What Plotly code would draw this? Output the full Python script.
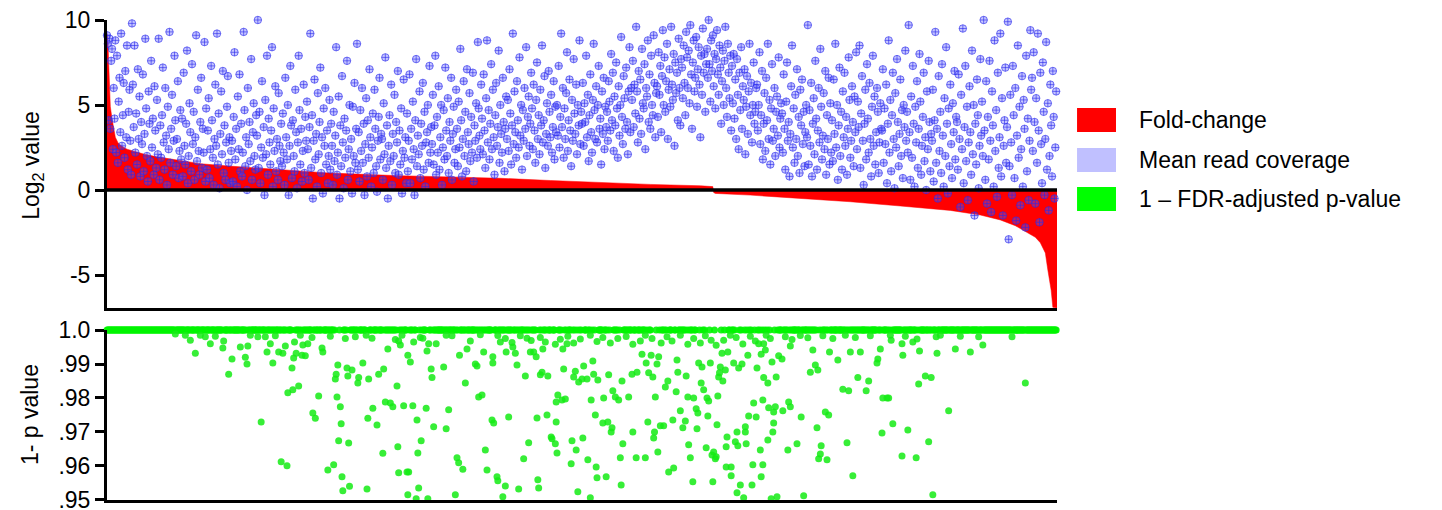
import plotly.graph_objects as go

# ---------------- data ----------------
N_GENES = 1140  # genes ranked by fold-change

# sorted log2 fold-change, read at selected ranks
fold_rank = [0, 1, 2, 3, 4, 6, 8, 10, 13, 17, 24, 32, 45, 60, 80, 100, 112, 135, 160, 200,
             232, 260, 292, 328, 352, 412, 472, 532, 592, 652, 712, 727,
             728, 730, 772, 832, 892, 952, 1012, 1048, 1072, 1090, 1102, 1114, 1120, 1126,
             1129, 1133, 1135, 1140]
fold_value = [9.2, 9.0, 7.5, 5.8, 4.9, 4.2, 3.6, 3.1, 2.8, 2.6, 2.4, 2.28, 2.1, 1.95, 1.78, 1.65, 1.55, 1.45, 1.36, 1.2,
              1.08, 1.02, 0.95, 0.88, 0.84, 0.77, 0.69, 0.56, 0.43, 0.33, 0.25, 0.2,
              -0.15, -0.2, -0.3, -0.49, -0.69, -0.94, -1.2, -1.47, -1.76, -2.1, -2.45, -2.78, -3.1, -3.7,
              -4.7, -5.9, -6.9, -6.94]

# log2 mean read coverage, one value per gene in rank order
mean_cov = [
    9.1, 8.6, 4.1, 8.9, 3.6, 7.6, 8.3, 2.4, 6.0, 4.2, 8.8, 2.2, 7.9, 1.6, 5.2, 6.6, 3.4, 9.2, 2.6, 4.4, 6.3, 1.9, 7.0, 3.1, 8.5, 1.2, 4.6, 5.9, 2.9, 0.9,
    9.8, 6.2, 3.7, 8.5, 2.2, 4.5, 1.5, 7.1, 3.0, 5.5, 0.8, 4.0, 2.7, 6.8, 1.1, 3.3, 8.9, 4.8, 2.0, 0.5, 5.8, 3.9, 1.7, 7.6, 2.5, 4.2, 0.9, 6.1, 3.5, 1.3,
    5.3, 2.1, 8.9, 0.6, 3.8, 1.9, 4.4, 7.2, 2.8, 1.2, 6.0, 3.2, 0.3, 4.9, 2.4, 9.3, 1.6, 3.6, 5.6, 0.9, 2.9, 7.9, 4.1, 1.4, 3.0, 6.4, 0.7, 2.3, 4.7, 1.8,
    4.2, 0.8, 6.9, 2.6, 1.5, 3.9, 8.2, 0.4, 2.0, 5.1, 3.4, 1.1, 7.4, 2.7, 4.6, 0.6, 3.1, 9.1, 1.7, 5.9, 2.3, 0.9, 4.0, 6.6, 1.3, 3.6, 2.2, 8.7, 0.5, 4.8,
    1.2, 3.5, 5.4, 0.7, 2.4, 7.3, 4.1, 1.9, 0.3, 3.0, 6.2, 2.6, 9.2, 1.5, 4.5, 0.1, 3.3, 5.8, 2.1, 7.0, 1.0, 3.8, 0.6, 2.8, 4.9, 6.7, 1.6, 3.1, 0.4, 2.3,
    2.9, 0.5, 4.3, 8.1, 1.8, 3.6, 0.2, 5.5, 2.4, 6.8, 1.1, 3.9, 0.8, 2.2, 9.3, 4.7, 1.4, 3.1, 0.0, 6.0, 2.7, 4.0, 1.7, 7.7, 0.6, 3.4, 5.1, 2.0, 1.2, 4.4,
    3.2, 10.0, 1.3, 4.6, 0.4, 2.5, 6.4, 1.9, 3.7, -0.3, 5.3, 2.1, 7.9, 0.9, 4.2, 2.8, 1.5, 3.5, 8.4, 0.2, 4.8, 2.3, 6.1, 1.1, 3.0, 0.6, 5.7, 2.6, 1.7, 3.9,
    1.4, 4.5, 2.2, 0.3, 6.6, 3.1, 1.8, 5.0, -0.3, 2.6, 7.3, 3.8, 0.7, 4.1, 2.0, 1.1, 5.9, 3.4, 0.1, 2.8, 7.9, 4.7, 1.5, 3.6, 0.5, 2.3, 6.2, 1.0, 4.3, 2.9,
    5.2, 2.4, 0.6, 3.7, 9.2, 1.3, 4.4, -0.5, 2.9, 6.5, 1.8, 3.3, 0.2, 5.7, 2.1, 4.0, 7.2, 1.0, 3.1, -0.2, 4.8, 2.6, 6.0, 1.5, 3.5, 0.4, 2.0, 5.3, 1.2, 3.9,
    2.6, 0.3, 4.6, 1.7, 3.2, 8.4, 0.9, 2.2, 5.5, -0.5, 3.8, 1.4, 6.7, 2.8, 0.1, 4.2, 1.9, 3.5, 7.6, 0.6, 2.4, 5.0, 1.1, 3.0, -0.2, 4.9, 2.0, 6.3, 1.6, 3.6,
    8.6, 1.2, 3.4, 0.5, 4.7, 2.3, 6.0, 1.6, 3.9, -0.3, 2.7, 5.4, 0.8, 4.1, 1.9, 7.1, 3.1, 0.2, 2.5, 4.5, 1.0, 5.9, 3.6, 1.4, -0.1, 2.9, 4.3, 6.6, 1.8, 3.3,
    3.0, 0.6, 5.1, 2.1, 7.8, 1.3, 3.8, -0.5, 2.6, 4.4, 1.7, 6.2, 0.3, 3.3, 2.0, 5.6, 1.0, 4.0, 2.8, 7.0, 0.9, 3.5, 1.5, 4.8, -0.2, 2.3, 6.5, 1.9, 3.1, 0.4,
    4.5, 1.1, 2.9, 6.8, 0.4, 3.6, 1.8, 5.2, 2.4, -0.3, 4.1, 7.7, 1.4, 3.2, 2.1, 5.8, 0.7, 3.9, 2.6, 6.3, 1.2, 4.6, 0.2, 2.8, 3.4, 5.0, 1.6, 7.3, 2.2, 3.7,
    2.7, 5.6, 1.5, 3.8, 7.9, 0.9, 4.3, 2.2, 6.1, 1.2, 3.1, 5.0, 0.3, 2.5, 4.7, 1.8, 7.2, 3.5, 2.0, 5.4, 1.0, 4.0, 2.9, 6.6, 0.6, 3.3, 4.9, 1.6, 2.4, 5.9,
    3.6, 1.4, 5.2, 2.5, 8.3, 4.1, 0.8, 3.0, 6.4, 2.0, 4.6, 1.1, 7.1, 3.4, 2.7, 5.7, 1.7, 4.3, 2.2, 6.9, 0.5, 3.8, 2.9, 5.1, 1.9, 8.7, 4.8, 3.2, 2.4, 6.2,
    4.2, 2.1, 6.8, 3.5, 1.3, 5.4, 8.8, 2.8, 4.7, 1.8, 3.9, 7.4, 2.4, 5.9, 3.1, 0.9, 4.4, 6.3, 2.6, 3.7, 8.2, 1.6, 5.0, 3.3, 2.2, 6.6, 4.0, 1.1, 3.6, 5.5,
    3.0, 5.3, 2.3, 7.1, 4.5, 1.5, 3.8, 9.2, 2.7, 5.8, 3.4, 1.9, 6.4, 4.1, 2.5, 7.8, 3.2, 5.0, 1.2, 4.7, 2.9, 6.0, 3.6, 8.4, 2.0, 4.3, 5.5, 2.6, 3.9, 6.9,
    4.8, 2.4, 6.2, 3.5, 1.6, 5.3, 7.5, 3.0, 4.4, 2.1, 5.9, 3.8, 8.5, 2.8, 4.1, 6.7, 1.3, 3.3, 5.1, 2.6, 7.0, 4.6, 3.1, 5.6, 2.2, 3.7, 6.4, 1.8, 4.9, 3.4,
    5.0, 3.2, 7.3, 2.5, 4.3, 9.2, 3.7, 6.0, 1.9, 4.8, 3.0, 5.7, 8.1, 2.3, 4.1, 6.5, 3.5, 1.4, 5.3, 2.9, 7.7, 4.5, 3.3, 6.2, 2.1, 5.0, 3.8, 8.8, 2.7, 4.6,
    3.9, 6.3, 2.6, 5.1, 4.0, 7.9, 3.1, 5.6, 1.7, 4.4, 6.8, 3.4, 2.2, 5.3, 8.6, 4.7, 3.0, 6.1, 2.8, 5.0, 7.3, 3.6, 4.2, 1.5, 5.8, 3.3, 6.6, 2.4, 4.9, 3.7,
    4.6, 2.9, 6.4, 5.2, 3.5, 8.0, 4.1, 6.9, 2.3, 5.5, 3.8, 7.5, 4.8, 1.9, 6.1, 3.2, 5.0, 9.0, 4.3, 2.7, 6.7, 5.4, 3.6, 7.2, 4.0, 2.1, 5.8, 8.4, 3.4, 6.0,
    5.3, 7.6, 3.7, 6.2, 4.5, 9.6, 5.8, 2.8, 7.0, 4.2, 6.5, 3.3, 8.3, 5.1, 4.8, 7.4, 2.4, 6.0, 5.5, 8.8, 4.0, 6.8, 3.6, 7.9, 5.0, 4.4, 9.1, 6.3, 3.1, 5.7,
    6.1, 4.3, 8.1, 5.6, 7.3, 3.4, 6.7, 9.4, 5.0, 7.8, 4.6, 6.4, 8.6, 3.0, 5.9, 7.1, 4.9, 9.6, 6.2, 5.3, 8.0, 2.6, 7.5, 5.7, 6.9, 4.1, 8.9, 6.0, 3.8, 7.7,
    7.2, 5.4, 8.5, 6.3, 4.4, 9.3, 7.8, 6.0, 8.2, 5.1, 9.7, 6.8, 3.6, 7.5, 8.8, 5.8, 6.6, 9.0, 4.9, 7.1, 8.4, 6.2, 3.1, 7.9, 5.6, 9.5, 6.9, 8.0, 4.6, 7.4,
    8.3, 6.6, 10.0, 7.4, 5.2, 8.8, 7.0, 9.1, 6.1, 8.0, 4.8, 7.7, 9.4, 6.8, 5.6, 8.5, 7.2, 3.9, 6.4, 8.2, 5.0, 7.6, 9.6, 6.0, 4.3, 8.6, 6.9, 5.4, 7.9, 3.5,
    7.3, 5.1, 8.0, 4.2, 6.5, 3.0, 7.7, 5.6, 2.4, 6.9, 4.7, 8.4, 3.6, 6.1, 5.3, 7.1, 2.1, 4.9, 6.7, 3.3, 5.8, 8.6, 4.4, 6.3, 2.8, 5.0, 7.5, 3.9, 4.6, 6.0,
    6.2, 3.5, 5.0, 8.1, 2.7, 4.4, 7.0, 1.8, 3.9, 5.7, 2.3, 6.6, 4.1, 8.6, 3.0, 5.3, 1.5, 4.8, 7.4, 2.9, 3.6, 6.0, 2.0, 4.6, 5.5, 3.2, 7.8, 2.5, 4.2, 5.1,
    4.5, 2.2, 6.8, 3.6, 1.2, 5.2, 7.5, 2.9, 4.0, 0.8, 3.3, 6.1, 8.5, 2.5, 4.8, 1.6, 5.6, 3.0, 7.1, 2.0, 4.3, 1.0, 5.9, 3.8, 6.5, 2.7, 4.6, 1.4, 3.4, 5.0,
    3.1, 9.7, 1.5, 4.7, 2.6, 6.3, 0.8, 3.9, 5.4, 2.1, 7.6, 4.2, 1.2, 3.5, 6.0, 2.8, 8.3, 4.9, 1.8, 3.2, 5.7, 2.4, 7.0, 0.9, 4.4, 3.0, 6.6, 1.5, 5.1, 2.2,
    4.1, 1.7, 6.5, 3.3, 8.6, 2.5, 5.0, 0.6, 3.8, 7.2, 2.0, 4.6, 1.2, 5.8, 3.1, 6.9, 2.6, 4.3, 0.9, 3.6, 7.8, 5.3, 1.9, 2.9, 6.1, 4.0, 1.4, 5.5, 3.4, 8.1,
    2.4, 5.2, 3.7, 8.5, 1.3, 4.5, 6.7, 2.9, 0.3, 3.9, 5.9, 1.8, 7.4, 4.2, 2.2, 6.3, 3.0, 0.8, 4.9, 7.9, 2.6, 5.5, 1.5, 3.4, 6.0, 4.6, 1.0, 2.8, 5.1, 3.6,
    3.5, 7.1, 1.6, 4.8, 2.7, 6.2, 0.4, 3.9, 8.8, 2.2, 5.3, 1.1, 4.4, 6.9, 3.0, 0.1, 5.7, 2.5, 7.7, 4.0, 1.4, 3.3, 6.5, 2.0, 4.7, 0.7, 5.0, 3.7, 8.2, 2.9,
    4.6, 2.2, 9.7, 3.4, 0.6, 5.5, 1.9, 7.3, 3.9, 0.2, 4.9, 2.8, 6.4, 1.3, 3.6, 8.0, 5.2, 0.9, 2.6, 4.3, 6.9, 1.7, 3.1, 0.0, 5.8, 2.4, 7.6, 4.0, 1.1, 3.3,
    2.9, 5.9, 0.5, 4.1, 9.3, 1.6, 3.6, -0.5, 6.7, 2.3, 4.6, 1.0, 7.4, 3.2, 0.2, 5.4, 2.0, 8.4, 3.9, -0.2, 4.8, 1.4, 6.2, 2.7, 0.7, 5.1, 3.4, 7.0, 1.8, 4.3,
    4.0, 1.2, 6.8, 3.0, -1.0, 5.6, 2.4, 9.5, 0.4, 3.7, 7.3, 1.7, 4.9, -0.6, 2.8, 6.1, 3.4, 0.9, 8.2, 2.1, 5.0, -1.5, 3.9, 1.5, 6.5, 4.4, 0.1, 2.6, 7.7, 3.2,
    5.2, 2.0, 10.0, 3.5, 0.6, 6.4, -0.8, 4.3, 1.8, 7.6, 2.9, -1.3, 5.8, 3.8, 0.2, 8.8, 2.3, 4.7, -0.4, 6.9, 1.3, 3.1, 9.2, 0.8, 5.4, -1.5, 2.6, 4.1, 7.2, 1.6,
    3.7, 9.9, -2.9, 1.4, 5.6, 2.8, -0.3, 7.3, 4.4, 0.7, 6.0, -1.8, 3.2, 8.5, 1.9, 4.9, -0.9, 2.4, 6.7, 0.2, 5.3, 3.6, -2.2, 7.9, 1.1, 4.2, -0.6, 2.9, 9.4, 5.9,
    6.6, 2.3, 8.1, 4.0, -0.8, 5.4, 1.6, 9.2, 3.5, -1.9, 6.9, 2.7, 0.4, 7.5, 4.6, -0.3, 3.0, 8.7, 1.2, 5.1, -1.2, 2.0, 6.2, 3.8, 0.8, 7.0, 4.3, -0.5, 2.5, 5.8,
]

# 1 - FDR-adjusted p-value for genes below ~1.0 (all other genes sit at 1.0)
pval_rank = [
    82, 94, 100, 106, 112, 118, 124, 130, 139, 140, 146, 150, 160, 166, 168, 169, 172, 181, 185, 190,
    192, 196, 199, 202, 206, 209, 211, 214, 216, 217, 222, 223, 224, 225, 227, 230, 232, 234, 235, 238,
    241, 246, 247, 250, 254, 258, 259, 265, 268, 272, 274, 275, 276, 277, 278, 280, 281, 282, 283, 286,
    288, 289, 290, 291, 294, 298, 301, 302, 307, 311, 312, 313, 314, 318, 319, 324, 326, 331, 332, 334,
    337, 340, 343, 346, 348, 349, 350, 350, 352, 354, 356, 360, 361, 361, 362, 364, 367, 368, 371, 372,
    373, 374, 376, 377, 379, 383, 384, 385, 386, 389, 390, 392, 395, 404, 407, 407, 410, 414, 418, 420,
    422, 423, 427, 430, 432, 436, 442, 444, 446, 448, 450, 452, 454, 456, 462, 463, 463, 464, 468, 469,
    469, 472, 475, 478, 478, 479, 482, 486, 487, 490, 492, 494, 496, 500, 502, 504, 506, 508, 509, 512,
    515, 516, 517, 518, 520, 520, 522, 523, 526, 528, 529, 533, 534, 538, 538, 539, 539, 540, 541, 544,
    546, 547, 548, 550, 552, 553, 557, 558, 560, 560, 562, 563, 565, 566, 568, 570, 571, 572, 576, 577,
    580, 580, 581, 583, 584, 586, 587, 588, 588, 589, 595, 595, 596, 599, 601, 602, 604, 605, 606, 607,
    610, 613, 614, 616, 617, 618, 619, 623, 626, 630, 631, 631, 635, 636, 640, 642, 646, 646, 647, 649,
    650, 653, 654, 655, 656, 657, 658, 660, 661, 662, 664, 665, 668, 670, 672, 673, 674, 678, 679, 680,
    683, 684, 685, 688, 688, 691, 694, 695, 697, 697, 698, 700, 703, 704, 704, 707, 708, 709, 710, 712,
    713, 714, 716, 718, 719, 720, 721, 722, 724, 725, 726, 727, 728, 730, 731, 731, 732, 733, 734, 735,
    736, 738, 739, 740, 742, 743, 743, 744, 745, 748, 749, 749, 752, 754, 755, 756, 756, 757, 758, 760,
    762, 763, 764, 766, 766, 767, 769, 770, 772, 774, 775, 776, 778, 779, 780, 782, 784, 785, 785, 787,
    787, 788, 788, 790, 791, 793, 793, 794, 796, 797, 798, 799, 800, 800, 802, 803, 804, 806, 810, 811,
    814, 817, 818, 820, 820, 822, 828, 832, 833, 836, 841, 844, 847, 850, 852, 853, 854, 856, 857, 859,
    862, 864, 866, 867, 871, 877, 883, 886, 888, 890, 892, 895, 898, 901, 904, 911, 914, 916, 924, 925,
    928, 930, 931, 936, 938, 940, 941, 943, 954, 954, 955, 958, 961, 967, 971, 972, 974, 975, 982, 986,
    989, 991, 995, 996, 1000, 1010, 1018, 1024, 1036, 1046, 1051, 1086, 1102,
]
pval_value = [
    .9988, .9985, .997, .9932, .9985, .998, .996, .9982, .9947, .9968, .987, .9915, .995, .992, .990, .9953, .9985, .998, .9729, .998,
    .9935, .996, .9903, .9983, .9935, .9612, .9932, .9953, .960, .9815, .9888, .9824, .9918, .9965, .9932, .9835, .9985, .9926, .9956, .9924,
    .996, .9978, .9756, .974, .9806, .9947, .9935, .9588, .9982, .9603, .9856, .987, .9803, .9897, .9674, .9774, .9724, .9568, .9527, .9975,
    .9888, .9865, .9667, .954, .9882, .998, .9844, .986, .9903, .9985, .9532, .974, .9856, .9976, .977, .972, .987, .9637, .9885, .9788,
    .9944, .9785, .9774, .9972, .9835, .9656, .958, .9968, .9956, .9985, .9777, .9582, .9515, .9926, .9582, .9906, .9777, .9965, .9503, .9735,
    .9638, .9535, .9978, .9674, .9976, .977, .9938, .9503, .996, .9885, .986, .9715, .996, .9891, .9709, .9985, .9765, .9983, .9515, .9624,
    .9609, .9926, .959, .9844, .9944, .9968, .99, .9894, .9803, .9986, .9809, .9935, .9647, .9588, .9735, .9921, .9903, .9726, .9568, .9556,
    .9984, .9965, .9509, .9541, .9975, .9935, .9744, .9963, .995, .9932, .9897, .9532, .9983, .9621, .9865, .9976, .9668, .9935, .9969, .9935,
    .9921, .9741, .9559, .9535, .9868, .9978, .9876, .9944, .9965, .975, .9865, .9685, .968, .9665, .9958, .9729, .9788, .9638, .9809, .9973,
    .9794, .9944, .9885, .9797, .996, .9982, .9606, .9674, .9862, .9962, .9879, .9647, .9524, .9847, .9974, .9856, .9682, .9894, .9856, .9618,
    .9506, .9985, .9794, .9909, .987, .975, .9597, .9565, .9966, .9853, .9726, .9978, .98, .9568, .9729, .9868, .9962, .97, .9712, .9821,
    .9803, .9975, .9794, .9624, .9544, .985, .9665, .9981, .9803, .987, .97, .9958, .9624, .9876, .9968, .9929, .9624, .9985, .9903, .9729,
    .9874, .9926, .9975, .9862, .9682, .97, .9803, .99, .9641, .9921, .9718, .9962, .9718, .9832, .998, .985, .9582, .9968, .9735, .9594,
    .9818, .9912, .9876, .9762, .9985, .9712, .9732, .9865, .9803, .9958, .9662, .9624, .9553, .98, .9975, .9768, .9709, .9756, .9903, .9962,
    .9844, .9891, .9824, .9983, .9653, .98, .9747, .9791, .9903, .997, .9632, .9553, .9641, .9621, .9627, .9955, .9721, .9806, .9862, .9874,
    .9891, .9932, .985, .997, .9882, .9656, .9597, .9685, .9935, .9985, .9597, .9571, .9903, .9671, .9978, .97, .9521, .9659, .9888, .9544,
    .99, .9959, .9506, .9715, .97, .9665, .9926, .9747, .9982, .9544, .9603, .9785, .9968, .9744, .9888, .996, .9647, .9929, .9568, .9794,
    .9603, .996, .986, .9941, .9985, .9844, .9676, .9771, .9975, .9503, .9906, .97, .9759, .9726, .9774, .9862, .9509, .9924, .9915, .9762,
    .998, .9647, .9788, .9774, .9953, .9972, .9665, .9984, .9744, .9512, .9977, .9876, .9941, .9897, .9712, .9882, .9621, .9635, .9659, .9983,
    .9759, .9618, .975, .9935, .9975, .9912, .9826, .9985, .9668, .9821, .9935, .9571, .9978, .986, .9935, .9821, .985, .9983, .9903, .9915,
    .9944, .9697, .98, .98, .98, .9985, .997, .9724, .996, .9629, .9926, .9982, .9706, .9965, .9624, .9974, .9841, .9938, .9865, .9671,
    .986, .9515, .998, .9932, .9985, .9762, .9944, .9982, .9935, .998, .9956, .998, .9844,
]

# ---------------- figure ----------------
RED = "#ff0000"
GREEN = "#00ff00"
LAVENDER = "#c0c0ff"

fig = go.Figure()

fig.add_trace(go.Scatter(
    x=fold_rank, y=fold_value, mode="lines", fill="tozeroy",
    fillcolor=RED, line=dict(color=RED, width=0.5),
    xaxis="x", yaxis="y", hoverinfo="skip", showlegend=False))

fig.add_trace(go.Scatter(
    x=list(range(len(mean_cov))), y=mean_cov, mode="markers",
    marker=dict(symbol="circle-cross", size=7.5, color="rgba(90,90,255,0.35)",
                line=dict(color="rgba(40,40,235,0.6)", width=1)),
    xaxis="x", yaxis="y", cliponaxis=False, showlegend=False))

listed = set(pval_rank)
sat_rank = [i for i in range(N_GENES) if i not in listed]
sat_value = [1.0 for _ in sat_rank]

fig.add_trace(go.Scatter(
    x=sat_rank, y=sat_value, mode="markers",
    marker=dict(size=7, color="rgba(0,245,0,0.9)", line=dict(width=0)),
    xaxis="x2", yaxis="y2", cliponaxis=False, showlegend=False))

fig.add_trace(go.Scatter(
    x=pval_rank, y=pval_value, mode="markers",
    marker=dict(size=7, color="rgba(20,235,20,0.85)", line=dict(width=0)),
    xaxis="x2", yaxis="y2", cliponaxis=False, showlegend=False))

axis_font = dict(family="Liberation Sans, Arial, sans-serif", size=23, color="black")

# the page body adds an 8 px offset, so the figure is 8 px smaller than the window
fig.update_layout(
    width=1434, height=502,
    margin=dict(l=99, r=385, t=12, b=10, autoexpand=False),
    paper_bgcolor="white", plot_bgcolor="white",
    font=axis_font,
    xaxis=dict(domain=[0, 1], range=[0, N_GENES], anchor="y", showgrid=False,
               zeroline=False, showticklabels=False, ticks="", automargin=False,
               showline=True, linecolor="black", linewidth=3),
    yaxis=dict(domain=[0.4, 1.0], range=[-6.94, 10.0001], anchor="x", showgrid=False,
               zeroline=False, showline=True, linecolor="black", linewidth=3,
               ticks="outside", ticklen=9, tickwidth=3, tickcolor="black",
               tickvals=[-5, 0, 5, 10], ticktext=["-5", "0", "5", "10"],
               tickfont=axis_font, ticklabeloverflow="allow", automargin=False),
    xaxis2=dict(domain=[0, 1], range=[0, N_GENES], anchor="y2", showgrid=False,
                zeroline=False, showticklabels=False, ticks="", automargin=False,
                showline=True, linecolor="black", linewidth=3),
    yaxis2=dict(domain=[0, 0.3542], range=[0.94995, 1.00002], anchor="x2", showgrid=False,
                zeroline=False, showline=True, linecolor="black", linewidth=3,
                ticks="outside", ticklen=9, tickwidth=3, tickcolor="black",
                tickvals=[0.95, 0.96, 0.97, 0.98, 0.99, 1.0],
                ticktext=[".95", ".96", ".97", ".98", ".99", "1.0"],
                tickfont=axis_font, ticklabeloverflow="allow", automargin=False),
)

# zero line of the fold-change panel
fig.add_shape(type="line", xref="x domain", yref="y", x0=0, x1=1, y0=0, y1=0,
              line=dict(color="black", width=3.5), layer="above")

# axis titles
fig.add_annotation(text="Log<sub>2</sub> value", xref="paper", yref="paper",
                   x=-0.078, y=0.698, textangle=-90, showarrow=False,
                   xanchor="center", yanchor="middle", font=axis_font)
fig.add_annotation(text="1- p value", xref="paper", yref="paper",
                   x=-0.081, y=0.177, textangle=-90, showarrow=False,
                   xanchor="center", yanchor="middle", font=axis_font)

# legend (drawn manually: coloured boxes + labels)
legend_items = [("Fold-change", RED), ("Mean read coverage", LAVENDER),
                ("1 \u2013 FDR-adjusted p-value", GREEN)]
legend_y = [0.7917, 0.7083, 0.6271]
for (label, col), yc in zip(legend_items, legend_y):
    fig.add_shape(type="rect", xref="paper", yref="paper",
                  x0=1.0211, x1=1.0621, y0=yc - 0.025, y1=yc + 0.025,
                  fillcolor=col, line=dict(width=0))
    fig.add_annotation(text=label, xref="paper", yref="paper", x=1.0842, y=yc,
                       xanchor="left", yanchor="middle", showarrow=False,
                       font=dict(family="Liberation Sans, Arial, sans-serif", size=23, color="black"))

fig.write_html("out.html")
